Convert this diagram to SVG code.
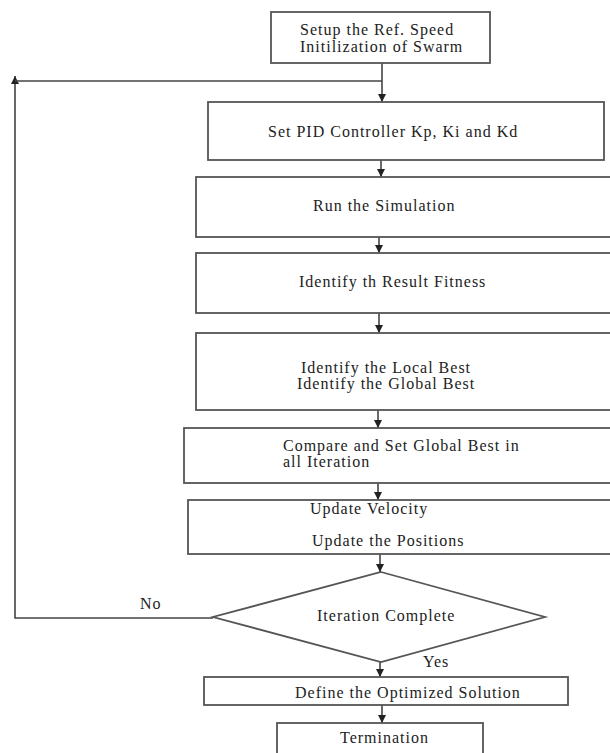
<svg xmlns="http://www.w3.org/2000/svg" width="610" height="753" viewBox="0 0 610 753">
<defs>
<style>
.box{fill:#fff;stroke:#555;stroke-width:1.8}
.ln{fill:none;stroke:#444;stroke-width:1.6}
.t{font-family:"Liberation Serif","Times New Roman",serif;font-size:16px;letter-spacing:1px;fill:#222}
</style>
<marker id="ah" viewBox="0 0 10 10" refX="10" refY="5" markerWidth="8" markerHeight="8" markerUnits="userSpaceOnUse" orient="auto">
<path d="M0,0 L10,5 L0,10 Z" fill="#222"/>
</marker>
</defs>
<rect width="610" height="753" fill="#fff"/>
<g id="connectors">
<line class="ln" x1="382" y1="63" x2="382" y2="102" marker-end="url(#ah)"/>
<path class="ln" d="M213,618 H15 V76" marker-end="url(#ah)"/>
<line class="ln" x1="15" y1="81" x2="382" y2="81"/>
<line class="ln" x1="381" y1="160" x2="381" y2="177" marker-end="url(#ah)"/>
<line class="ln" x1="379" y1="237" x2="379" y2="253" marker-end="url(#ah)"/>
<line class="ln" x1="379" y1="313" x2="379" y2="333" marker-end="url(#ah)"/>
<line class="ln" x1="378" y1="410" x2="378" y2="428" marker-end="url(#ah)"/>
<line class="ln" x1="378" y1="483" x2="378" y2="500" marker-end="url(#ah)"/>
<line class="ln" x1="380" y1="554" x2="380" y2="572" marker-end="url(#ah)"/>
<line class="ln" x1="380" y1="662" x2="380" y2="677" marker-end="url(#ah)"/>
<line class="ln" x1="382" y1="705" x2="382" y2="723" marker-end="url(#ah)"/>
<text class="t" x="140" y="609">No</text>
<text class="t" x="423" y="667">Yes</text>
</g>
<g id="setup">
<rect class="box" x="271" y="12" width="219" height="51"/>
<text class="t" x="300" y="35">Setup the Ref. Speed</text>
<text class="t" x="300" y="52">Initilization of Swarm</text>
</g>
<g id="pid">
<rect class="box" x="208" y="102" width="396" height="58"/>
<text class="t" x="268" y="137">Set PID Controller Kp, Ki and Kd</text>
</g>
<g id="run">
<rect class="box" x="196" y="177" width="420" height="60"/>
<text class="t" x="313" y="211">Run the Simulation</text>
</g>
<g id="fitness">
<rect class="box" x="196" y="253" width="420" height="60"/>
<text class="t" x="299" y="287">Identify th Result Fitness</text>
</g>
<g id="best">
<rect class="box" x="196" y="333" width="420" height="77"/>
<text class="t" x="301" y="373">Identify the Local Best</text>
<text class="t" x="297" y="389">Identify the Global Best</text>
</g>
<g id="compare">
<rect class="box" x="184" y="428" width="432" height="55"/>
<text class="t" x="283" y="451">Compare and Set Global Best in</text>
<text class="t" x="283" y="467">all Iteration</text>
</g>
<g id="update">
<rect class="box" x="188" y="500" width="428" height="54"/>
<text class="t" x="310" y="514">Update Velocity</text>
<text class="t" x="312" y="546">Update the Positions</text>
</g>
<g id="iteration">
<polygon class="box" points="381,572 545,617 381,662 213,617"/>
<text class="t" x="317" y="621">Iteration Complete</text>
</g>
<g id="define">
<rect class="box" x="204" y="677" width="364" height="28"/>
<text class="t" x="295" y="698">Define the Optimized Solution</text>
</g>
<g id="termination">
<rect class="box" x="277" y="723" width="206" height="40"/>
<text class="t" x="340" y="743">Termination</text>
</g>
</svg>
